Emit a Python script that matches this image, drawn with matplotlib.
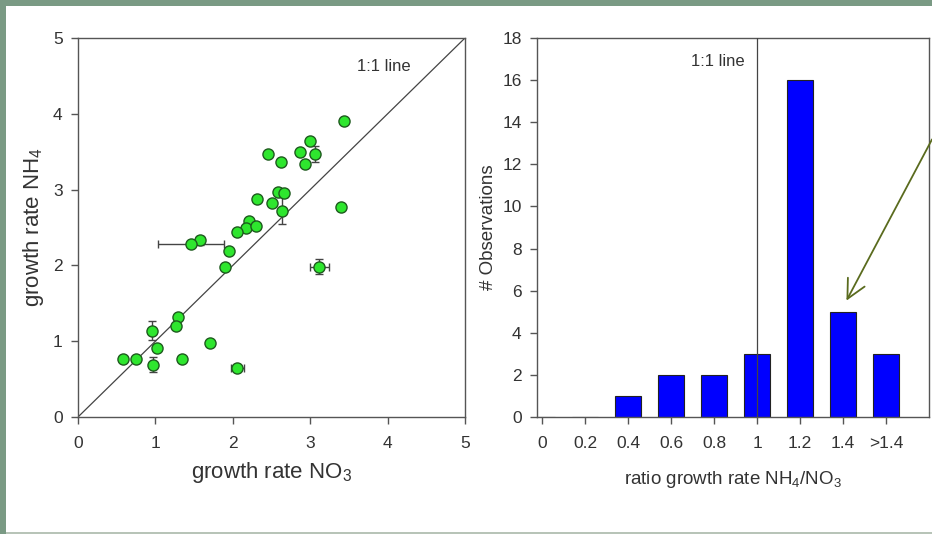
import matplotlib
matplotlib.use('Agg')
import matplotlib.pyplot as plt
from matplotlib.patches import Rectangle

plt.rcParams['font.family'] = ['Liberation Sans', 'DejaVu Sans']
plt.rcParams['mathtext.fontset'] = 'custom'
plt.rcParams['mathtext.rm'] = 'Liberation Sans'
plt.rcParams['mathtext.it'] = 'Liberation Sans'

# Left panel: growth rate NH4 vs NO3
no3 = [3.44, 3.00, 3.06, 2.87, 2.93, 2.45, 2.62, 2.59, 2.66, 2.64, 2.50,
       2.31, 3.40, 2.21, 2.17, 2.30, 2.05, 1.58, 1.46, 1.95, 1.90, 3.12,
       1.29, 1.27, 0.96, 1.02, 0.58, 0.75, 0.97, 1.35, 1.71, 2.06]
nh4 = [3.90, 3.64, 3.47, 3.50, 3.34, 3.47, 3.36, 2.97, 2.95, 2.72, 2.82,
       2.88, 2.77, 2.59, 2.50, 2.52, 2.44, 2.33, 2.28, 2.19, 1.98, 1.98,
       1.32, 1.20, 1.14, 0.91, 0.77, 0.77, 0.69, 0.77, 0.98, 0.64]
no3_err = [0, 0, 0, 0, 0, 0, 0, 0, 0, 0, 0,
           0, 0, 0, 0, 0, 0, 0.05, 0.42, 0, 0, 0.12,
           0, 0, 0, 0, 0, 0, 0, 0, 0.04, 0.08]
nh4_err = [0, 0, 0.10, 0, 0, 0, 0, 0, 0.05, 0.18, 0,
           0, 0, 0, 0, 0, 0, 0.06, 0, 0, 0, 0.10,
           0, 0, 0.12, 0, 0, 0, 0.10, 0, 0, 0.02]

# Right panel: histogram of NH4/NO3 ratio
ratio_bins = ['0', '0.2', '0.4', '0.6', '0.8', '1', '1.2', '1.4', '>1.4']
n_obs = [0, 0, 1, 2, 2, 3, 16, 5, 3]

fig = plt.figure(figsize=(9.32, 5.34), dpi=100)
fig.patch.set_facecolor('#7a9a84')
fig.patches.append(Rectangle((6 / 932, 2 / 534), 1, 526 / 534,
                             transform=fig.transFigure, facecolor='white',
                             edgecolor='none', zorder=-10))
fig.patches.append(Rectangle((6 / 932, 0), 1, 2 / 534,
                             transform=fig.transFigure, facecolor='#b8c4b8',
                             edgecolor='none', zorder=-10))

spine_col = '#555555'
text_col = '#333333'

ax1 = fig.add_axes([78 / 932, 117 / 534, 387 / 932, 379 / 534])
ax1.plot([0, 5], [0, 5], color='#444444', lw=0.9, zorder=1)
ax1.errorbar(no3, nh4, xerr=no3_err, yerr=nh4_err, fmt='none',
             ecolor='#444444', elinewidth=1, capsize=3, capthick=1, zorder=2)
ax1.plot(no3, nh4, 'o', ms=8, mfc='#2ee62e', mec='#1e5a1e', mew=1, zorder=3)
ax1.text(3.6, 4.63, '1:1 line', fontsize=12, color=text_col, va='center')
ax1.set_xlim(0, 5)
ax1.set_ylim(0, 5)
ax1.set_xticks(range(6))
ax1.set_yticks(range(6))
ax1.set_xlabel('growth rate NO$_3$', fontsize=16, color=text_col, labelpad=6)
ax1.set_ylabel('growth rate NH$_4$', fontsize=16, color=text_col, labelpad=5)

ax2 = fig.add_axes([537 / 932, 117 / 534, 392 / 932, 379 / 534])
pos = list(range(len(ratio_bins)))
ax2.bar(pos, n_obs, width=0.6, color='#0000ff', edgecolor='#222222', lw=0.8,
        zorder=2)
ax2.axvline(5, color='#444444', lw=0.9, zorder=3)
ax2.text(4.72, 16.9, '1:1 line', fontsize=12, color=text_col, ha='right',
         va='center')
ax2.set_xlim(-5 / 43, 387 / 43)
ax2.set_ylim(0, 18)
ax2.set_xticks(pos)
ax2.set_xticklabels(ratio_bins)
ax2.set_yticks(range(0, 19, 2))
ax2.set_xlabel('ratio growth rate NH$_4$/NO$_3$', fontsize=13.5,
               color=text_col, labelpad=13)
ax2.set_ylabel('# Observations', fontsize=13.5, color=text_col, labelpad=4)
ax2.annotate('', xy=(7.05, 5.41), xytext=(9.1, 13.3),
             arrowprops=dict(arrowstyle='->', color='#5a6b1e', lw=1.3,
                             mutation_scale=34),
             annotation_clip=False)

for ax in (ax1, ax2):
    for s in ax.spines.values():
        s.set_color(spine_col)
        s.set_linewidth(1)
    ax.tick_params(direction='out', length=5, width=1, color=spine_col,
                   labelsize=12.5, labelcolor=text_col, top=False, right=False,
                   pad=6)
    ax.tick_params(axis='x', pad=9)

fig.savefig('out.png', dpi=100, facecolor=fig.get_facecolor())
